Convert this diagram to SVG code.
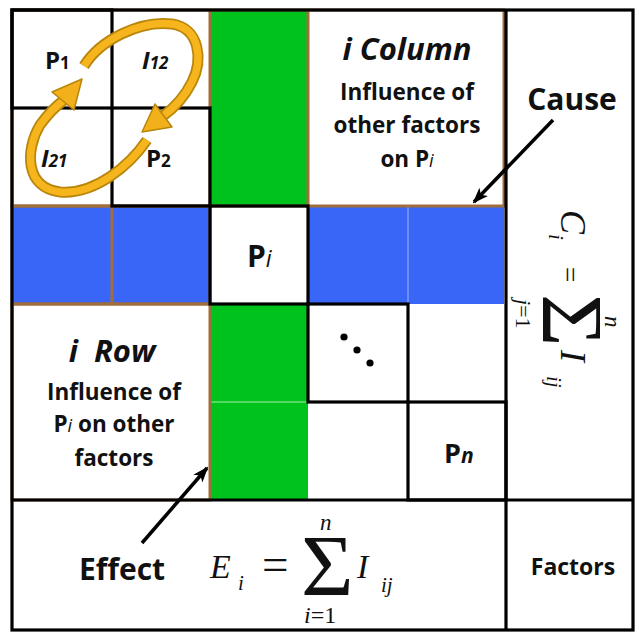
<svg xmlns="http://www.w3.org/2000/svg" width="639" height="634" viewBox="0 0 639 634">
<style>
.blk{fill:none;stroke:#000;stroke-width:3.2}
.brn{fill:none;stroke:#a06d3c;stroke-width:3}
.grn{fill:#00c21c}
.blu{fill:#3a66f7}
.lbl{font-family:"Open Sans","Liberation Sans",sans-serif;font-weight:bold;fill:#111}
.hd{font-family:"Open Sans","Liberation Sans",sans-serif;font-weight:bold;font-style:italic;fill:#111}
.mth{font-family:"Liberation Serif","DejaVu Serif",serif;fill:#111}
.it{font-style:italic}
.rib{fill:none;stroke:#b8860b;stroke-width:11;stroke-linecap:butt}
.ribi{fill:none;stroke:#f6b51c;stroke-width:7.5;stroke-linecap:butt}
.head{fill:#f2b01a;stroke:#b8860b;stroke-width:1.5;stroke-linejoin:round}
</style>
<defs>
<marker id="ah" markerUnits="userSpaceOnUse" markerWidth="16" markerHeight="12" refX="14" refY="6" orient="auto">
<path d="M0,0 L16,6 L0,12 L4,6 Z" fill="#000"/>
</marker>
</defs>
<rect x="0" y="0" width="639" height="634" fill="#fff"/>

<g id="fills">
<rect class="grn" x="210" y="10" width="98" height="196"/>
<rect class="grn" x="210" y="304" width="98" height="196"/>
<rect class="blu" x="12" y="206" width="198" height="98"/>
<rect class="blu" x="308" y="206" width="196" height="98"/>
<line x1="408" y1="206" x2="408" y2="304" stroke="#9fb4ff" stroke-width="1"/>
<line x1="210" y1="402" x2="308" y2="402" stroke="#a8f0a8" stroke-width="1"/>
</g>

<g id="brown-frames">
<rect class="brn" x="12" y="10" width="492" height="196"/>
<line class="brn" x1="210" y1="10" x2="210" y2="206"/>
<line class="brn" x1="308" y1="10" x2="308" y2="206"/>
<rect class="brn" x="12" y="206" width="198" height="98"/>
<line class="brn" x1="112" y1="206" x2="112" y2="304"/>
<rect class="brn" x="12" y="304" width="198" height="196"/>
</g>

<g id="outer">
<rect class="blk" x="12" y="10" width="621" height="620"/>
<line class="blk" x1="506" y1="10" x2="506" y2="630"/>
<line class="blk" x1="12" y1="500" x2="633" y2="500"/>
</g>

<g id="P1">
<rect class="blk" x="12" y="10" width="100" height="98"/>
<text class="lbl" x="45" y="69" font-size="24">P<tspan font-size="17">1</tspan></text>
</g>
<g id="I12">
<text class="hd" x="142" y="69" font-size="24">I<tspan font-size="17">12</tspan></text>
</g>
<g id="I21">
<text class="hd" x="41" y="167" font-size="24">I<tspan font-size="17">21</tspan></text>
</g>
<g id="P2">
<rect class="blk" x="112" y="108" width="98" height="98"/>
<text class="lbl" x="146" y="167" font-size="24">P<tspan font-size="17">2</tspan></text>
</g>

<g id="iColumn">
<text class="hd" x="407" y="60" font-size="31" text-anchor="middle">i Column</text>
<text class="lbl" x="407" y="100" font-size="22.5" text-anchor="middle">Influence of</text>
<text class="lbl" x="407" y="133" font-size="22.5" text-anchor="middle">other factors</text>
<text class="lbl" x="407" y="167" font-size="22.5" text-anchor="middle">on P<tspan font-style="italic" font-weight="normal" font-size="18">i</tspan></text>
</g>

<g id="Pi">
<rect class="blk" x="210" y="206" width="98" height="98"/>
<text class="lbl" x="247" y="267" font-size="30">P<tspan font-style="italic" font-weight="normal" font-size="23">i</tspan></text>
</g>

<g id="iRow">
<text class="hd" x="112" y="362" font-size="31" text-anchor="middle">i&#160;&#160;Row</text>
<text class="lbl" x="114" y="400" font-size="22.5" text-anchor="middle">Influence of</text>
<text class="lbl" x="114" y="432" font-size="22.5" text-anchor="middle">P<tspan font-style="italic" font-weight="normal" font-size="18">i</tspan> on other</text>
<text class="lbl" x="114" y="466" font-size="22.5" text-anchor="middle">factors</text>
</g>

<g id="dots">
<rect class="blk" x="308" y="304" width="100" height="98"/>
<circle cx="344" cy="337" r="3.6" fill="#000"/>
<circle cx="357" cy="350" r="3.6" fill="#000"/>
<circle cx="370" cy="363" r="3.6" fill="#000"/>
</g>

<g id="Pn">
<rect class="blk" x="408" y="402" width="98" height="98"/>
<text class="lbl" x="444" y="463" font-size="27">P<tspan font-style="italic" font-size="21">n</tspan></text>
</g>

<g id="Cause">
<text class="lbl" x="572" y="110" font-size="30" text-anchor="middle">Cause</text>
</g>

<g id="CauseFormula" transform="translate(561,210) rotate(90)">
<text class="mth it" x="0" y="0" font-size="36">C</text>
<text class="mth it" x="24" y="12" font-size="21">i</text>
<text class="mth" x="57" y="0" font-size="27">=</text>
<text class="mth" transform="translate(84,18) scale(1.05,1)" font-size="86">Σ</text>
<text class="mth it" x="106" y="-44" font-size="23">n</text>
<text class="mth" x="89" y="45" font-size="22"><tspan font-style="italic">j</tspan>=1</text>
<text class="mth it" x="140" y="0" font-size="36">I</text>
<text class="mth it" x="166" y="14" font-size="21">ij</text>
</g>

<g id="Effect">
<text class="lbl" x="122" y="580" font-size="30" text-anchor="middle">Effect</text>
</g>

<g id="EffectFormula">
<text class="mth it" x="210" y="578" font-size="34">E</text>
<text class="mth it" x="238" y="590" font-size="21">i</text>
<text class="mth" x="262" y="580" font-size="47">=</text>
<text class="mth" transform="translate(301,595) scale(1.05,1)" font-size="86">Σ</text>
<text class="mth it" x="320" y="530" font-size="23">n</text>
<text class="mth" x="304" y="623" font-size="24"><tspan font-style="italic">i</tspan>=1</text>
<text class="mth it" x="357" y="578" font-size="34">I</text>
<text class="mth it" x="381" y="592" font-size="21">ij</text>
</g>

<g id="Factors">
<text class="lbl" x="573" y="575" font-size="23" text-anchor="middle">Factors</text>
</g>

<g id="connectors">
<line x1="553" y1="120" x2="474" y2="202" stroke="#000" stroke-width="3.5" marker-end="url(#ah)"/>
<line x1="142" y1="543" x2="207" y2="468" stroke="#000" stroke-width="3.5" marker-end="url(#ah)"/>
<g id="cycle">
<path class="rib" d="M84,66 C100,40 140,20 172,24 C200,28 203,60 192,82 C184,98 174,108 163,116"/>
<path class="ribi" d="M84,66 C100,40 140,20 172,24 C200,28 203,60 192,82 C184,98 174,108 163,116"/>
<polygon class="head" points="142,132 155,104 172,127"/>
<path class="rib" d="M147,140 C130,165 95,195 60,192 C25,188 25,150 40,125 C48,114 56,106 64,100"/>
<path class="ribi" d="M147,140 C130,165 95,195 60,192 C25,188 25,150 40,125 C48,114 56,106 64,100"/>
<polygon class="head" points="82,79 74,110 52,92"/>
</g>
</g>
</svg>
